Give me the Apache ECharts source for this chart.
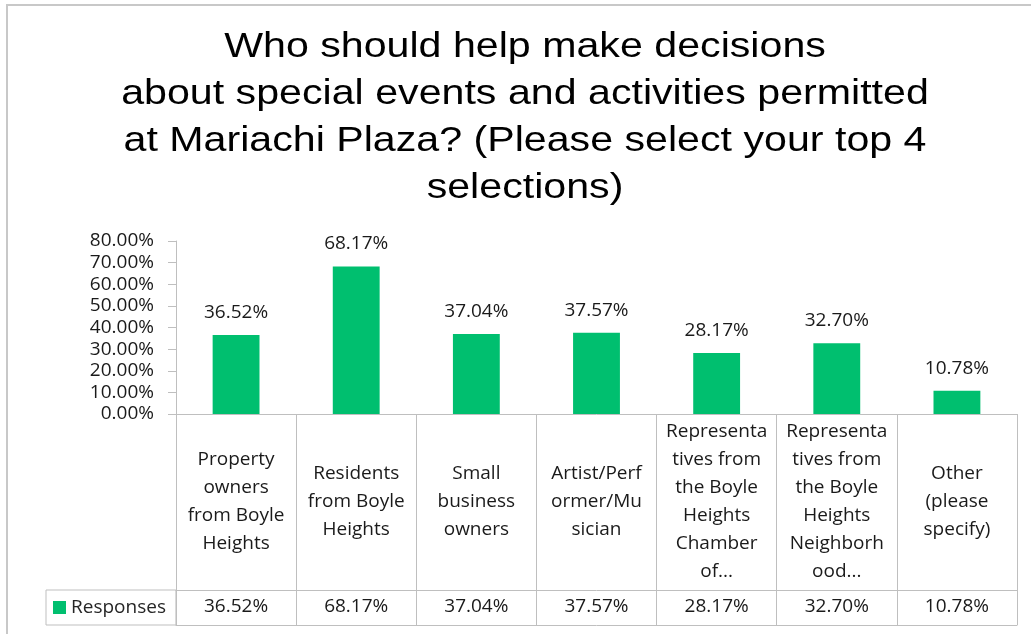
<!DOCTYPE html>
<html>
<head>
<meta charset="utf-8">
<script src="https://cdn.jsdelivr.net/npm/echarts@6/dist/echarts.min.js"></script>
<style>
html,body{margin:0;padding:0;background:#fff;}
#main{width:1031px;height:634px;}
</style>
</head>
<body>
<div id="main"></div>
<script>
const titleText = 'Who should help make decisions\nabout special events and activities permitted\nat Mariachi Plaza? (Please select your top 4\nselections)';
const categories = [
  'Property\nowners\nfrom Boyle\nHeights',
  'Residents\nfrom Boyle\nHeights',
  'Small\nbusiness\nowners',
  'Artist/Perf\normer/Mu\nsician',
  'Representa\ntives from\nthe Boyle\nHeights\nChamber\nof...',
  'Representa\ntives from\nthe Boyle\nHeights\nNeighborh\nood...',
  'Other\n(please\nspecify)'
];
const seriesName = 'Responses';
const values = [36.52, 68.17, 37.04, 37.57, 28.17, 32.70, 10.78];
const yTicks = [0, 10, 20, 30, 40, 50, 60, 70, 80];

const fmt = v => Number(v).toFixed(2) + '%';
const tableValues = values.map(fmt);
const FONT = '"Open Sans", sans-serif';
const GRID_LINE = '#bfbfbf';

const chart = echarts.init(document.getElementById('main'), null, {renderer: 'canvas'});
chart.setOption({
  backgroundColor: '#ffffff',
  animation: false,
  graphic: [{
    type: 'rect',
    silent: true,
    shape: {x: 7, y: 5, width: 1200, height: 800},
    style: {fill: 'none', stroke: '#c8c8c8', lineWidth: 2}
  }, {
    type: 'text',
    silent: true,
    x: 525,
    y: 24,
    scaleX: 1.176,
    style: {
      text: titleText,
      textAlign: 'center',
      textVerticalAlign: 'top',
      fontFamily: '"Liberation Sans", Arial, sans-serif',
      fontSize: 35,
      lineHeight: 47,
      fill: '#000000'
    }
  }],
  legend: {
    show: true,
    data: [seriesName],
    left: 46,
    top: 590,
    orient: 'horizontal',
    icon: 'rect',
    itemWidth: 13,
    itemHeight: 13,
    padding: [7, 10, 7, 7],
    borderColor: GRID_LINE,
    borderWidth: 1,
    selectedMode: false,
    textStyle: {fontFamily: FONT, fontSize: 19, color: '#262626', lineHeight: 21}
  },
  grid: {left: 176, right: 14, top: 241, bottom: 220, containLabel: false},
  xAxis: [{
    type: 'category',
    data: categories,
    position: 'bottom',
    axisLine: {show: true, lineStyle: {color: GRID_LINE, width: 1}},
    axisTick: {show: true, length: 211, lineStyle: {color: GRID_LINE, width: 1}},
    axisLabel: {
      interval: 0,
      margin: 88,
      verticalAlign: 'middle',
      align: 'center',
      lineHeight: 28,
      fontFamily: FONT,
      fontSize: 19,
      color: '#1a1a1a'
    },
    splitLine: {show: false}
  }, {
    type: 'category',
    data: tableValues,
    position: 'bottom',
    offset: 176,
    axisLine: {show: true, lineStyle: {color: GRID_LINE, width: 1}},
    axisTick: {show: false},
    axisLabel: {
      interval: 0,
      margin: 17,
      verticalAlign: 'middle',
      fontFamily: FONT,
      fontSize: 19,
      color: '#1a1a1a'
    }
  }, {
    type: 'category',
    data: categories,
    position: 'bottom',
    offset: 211,
    axisLine: {show: true, lineStyle: {color: GRID_LINE, width: 1}},
    axisTick: {show: false},
    axisLabel: {show: false}
  }],
  yAxis: {
    type: 'value',
    min: 0,
    max: 80,
    interval: 10,
    axisLine: {show: true, lineStyle: {color: GRID_LINE, width: 1}},
    axisTick: {show: true, length: 8, lineStyle: {color: GRID_LINE}},
    splitLine: {show: false},
    axisLabel: {
      margin: 22,
      fontFamily: FONT,
      fontSize: 19,
      color: '#1a1a1a',
      formatter: v => yTicks.includes(v) ? fmt(v) : ''
    }
  },
  series: [{
    name: seriesName,
    type: 'bar',
    xAxisIndex: 0,
    data: values,
    barCategoryGap: '61%',
    itemStyle: {color: '#00bf6f'},
    label: {
      show: true,
      position: 'top',
      distance: 13,
      fontFamily: FONT,
      fontSize: 19,
      color: '#1a1a1a',
      formatter: p => fmt(p.value)
    }
  }]
});
</script>
</body>
</html>
